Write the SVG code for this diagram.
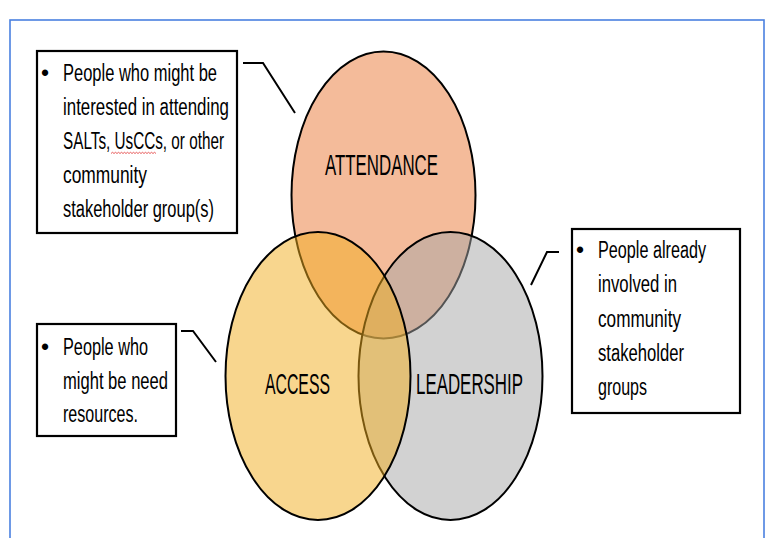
<svg xmlns="http://www.w3.org/2000/svg" width="770" height="538" viewBox="0 0 770 538">
  <style>
    .t { font-family: "Liberation Sans Narrow", "Liberation Sans", Arial, sans-serif; fill: #000; }
    .note { font-size: 23px; }
    .lbl { font-size: 29px; }
    .box { fill: #fff; stroke: #000; stroke-width: 2.2; }
    .ell { stroke: #000; stroke-width: 2; }
    .conn { fill: none; stroke: #000; stroke-width: 2; }
  </style>
  <rect x="0" y="0" width="770" height="538" fill="#fff"/>
  <rect x="10" y="20" width="754" height="600" fill="none" stroke="#4A80E0" stroke-width="1.6"/>

  <g id="node-attendance">
    <ellipse class="ell" cx="383.5" cy="195" rx="92" ry="143.5" fill="#F4BB9A"/>
    <text class="t lbl" x="325" y="175" textLength="113" lengthAdjust="spacingAndGlyphs">ATTENDANCE</text>
  </g>
  <g id="node-leadership">
    <ellipse class="ell" cx="450.5" cy="376" rx="92" ry="144" fill="#A6A6A6" fill-opacity="0.5"/>
    <text class="t lbl" x="416" y="394" textLength="107" lengthAdjust="spacingAndGlyphs">LEADERSHIP</text>
  </g>
  <g id="node-access">
    <ellipse class="ell" cx="318" cy="376" rx="92.5" ry="144" fill="#F2AE1E" fill-opacity="0.5"/>
    <text class="t lbl" x="265" y="394" textLength="65" lengthAdjust="spacingAndGlyphs">ACCESS</text>
  </g>

  <g id="connectors">
    <path class="conn" d="M243,63 L263,63 L295,113"/>
    <path class="conn" d="M181,331 L193,331 L216,362"/>
    <path class="conn" d="M559,252 L547,252 L531,285"/>
  </g>

  <g id="note-attendance">
    <rect class="box" x="37" y="51" width="200" height="182"/>
    <text class="t note" x="41" y="81">•</text>
    <text class="t note" x="63" y="81" textLength="154" lengthAdjust="spacingAndGlyphs">People who might be</text>
    <text class="t note" x="63" y="115" textLength="166" lengthAdjust="spacingAndGlyphs">interested in attending</text>
    <text class="t note" x="63" y="149" textLength="161" lengthAdjust="spacingAndGlyphs">SALTs, UsCCs, or other</text>
    <path d="M111,153.5 l1.5,-1.2 l1.5,1.2 l1.5,-1.2 l1.5,1.2 l1.5,-1.2 l1.5,1.2 l1.5,-1.2 l1.5,1.2 l1.5,-1.2 l1.5,1.2 l1.5,-1.2 l1.5,1.2 l1.5,-1.2 l1.5,1.2 l1.5,-1.2 l1.5,1.2 l1.5,-1.2 l1.5,1.2 l1.5,-1.2 l1.5,1.2 l1.5,-1.2 l1.5,1.2 l1.5,-1.2 l1.5,1.2 l1.5,-1.2 l1.5,1.2 l1.5,-1.2 l1.5,1.2 l1.5,-1.2 l1.5,1.2" fill="none" stroke="#E03030" stroke-width="0.8"/>
    <text class="t note" x="63" y="183" textLength="84" lengthAdjust="spacingAndGlyphs">community</text>
    <text class="t note" x="63" y="217" textLength="151" lengthAdjust="spacingAndGlyphs">stakeholder group(s)</text>
  </g>

  <g id="note-access">
    <rect class="box" x="37" y="324" width="139" height="112"/>
    <text class="t note" x="41" y="355">•</text>
    <text class="t note" x="63" y="355" textLength="85" lengthAdjust="spacingAndGlyphs">People who</text>
    <text class="t note" x="63" y="389" textLength="105" lengthAdjust="spacingAndGlyphs">might be need</text>
    <text class="t note" x="63" y="422" textLength="75" lengthAdjust="spacingAndGlyphs">resources.</text>
  </g>

  <g id="note-leadership">
    <rect class="box" x="572" y="229" width="168" height="184"/>
    <text class="t note" x="576" y="258">•</text>
    <text class="t note" x="598" y="258" textLength="108" lengthAdjust="spacingAndGlyphs">People already</text>
    <text class="t note" x="598" y="292" textLength="79" lengthAdjust="spacingAndGlyphs">involved in</text>
    <text class="t note" x="598" y="327" textLength="83" lengthAdjust="spacingAndGlyphs">community</text>
    <text class="t note" x="598" y="361" textLength="86" lengthAdjust="spacingAndGlyphs">stakeholder</text>
    <text class="t note" x="598" y="395" textLength="49" lengthAdjust="spacingAndGlyphs">groups</text>
  </g>
</svg>
